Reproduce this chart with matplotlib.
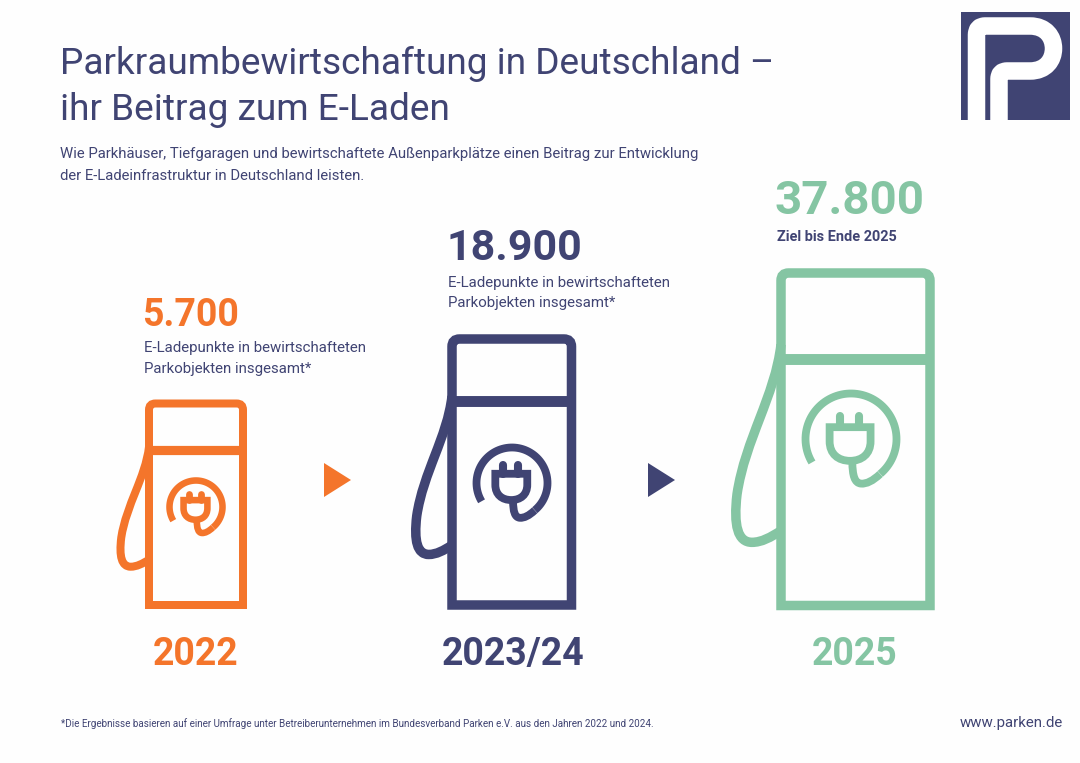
import numpy as np
import matplotlib
matplotlib.use('Agg')
import matplotlib.pyplot as plt
from matplotlib.path import Path
from matplotlib.patches import PathPatch, Rectangle, Polygon

years = ['2022', '2023/24', '2025']
points = [5700, 18900, 37800]
captions = ['E-Ladepunkte in bewirtschafteten\nParkobjekten insgesamt*',
            'E-Ladepunkte in bewirtschafteten\nParkobjekten insgesamt*',
            'Ziel bis Ende 2025']
title_lines = ['Parkraumbewirtschaftung in Deutschland –', 'ihr Beitrag zum E-Laden']
sub_lines = ['Wie Parkhäuser, Tiefgaragen und bewirtschaftete Außenparkplätze einen Beitrag zur Entwicklung',
             'der E-Ladeinfrastruktur in Deutschland leisten.']
footnote = '*Die Ergebnisse basieren auf einer Umfrage unter Betreiberunternehmen im Bundesverband Parken e.V. aus den Jahren 2022 und 2024.'
website = 'www.parken.de'

ORANGE = '#F4752B'
NAVY = '#404473'
GREEN = '#85C5A3'
BG = '#FEFEFE'
FONT = 'Roboto'

plt.rcParams['font.family'] = [FONT, 'DejaVu Sans']

fig = plt.figure(figsize=(10.8, 7.63), dpi=100, facecolor=BG)
ax = fig.add_axes([0, 0, 1, 1])
ax.set_xlim(0, 1080)
ax.set_ylim(763, 0)
ax.axis('off')


def px(size):
    # pixel groesse -> punkte
    return size * 0.72


def stroke(verts, codes, color, lw, cap='butt', join='round', zorder=3):
    patch = PathPatch(Path(verts, codes), fill=False, edgecolor=color, lw=px(lw),
                      capstyle=cap, joinstyle=join, zorder=zorder)
    ax.add_patch(patch)
    return patch


def pump(x0, x1, y0, y1, bar_y, cx, cy, r, color, lw):
    # x0,x1,y0,y1 = mittellinie vom gehaeuse
    w = x1 - x0
    h = y1 - y0
    M, L, Q, C = Path.MOVETO, Path.LINETO, Path.CURVE3, Path.CURVE4

    def pt(u, v):
        return (x0 + u * w, y0 + v * h)

    def pr(a, b):
        return (cx + a * r, cy + b * r)

    # gehaeuse, oben abgerundet
    rad = lw * 0.8
    stroke([(x0, y1), (x0, y0 + rad), (x0, y0), (x0 + rad, y0), (x1 - rad, y0), (x1, y0),
            (x1, y0 + rad), (x1, y1), (x0, y1)],
           [M, L, Q, Q, L, Q, Q, L, Path.CLOSEPOLY], color, lw, join='miter')
    ax.plot([x0, x1], [bar_y, bar_y], color=color, lw=px(lw * 1.15), solid_capstyle='butt', zorder=3)

    # kabel links
    cable = [pt(0, 0.215), pt(-0.04, 0.37), pt(-0.24, 0.50), pt(-0.295, 0.665),
             pt(-0.32, 0.76), pt(-0.29, 0.81), pt(-0.195, 0.81),
             pt(-0.13, 0.81), pt(-0.07, 0.795), pt(0, 0.775)]
    stroke(cable, [M, C, C, C, C, C, C, C, C, C], color, lw)

    # ring um den stecker, im uhrzeigersinn
    t = np.radians(np.linspace(211, -50, 80))
    ax.plot(cx + r * np.cos(t), cy - r * np.sin(t), color=color, lw=px(lw * 0.82),
            solid_capstyle='butt', zorder=3)

    # kabelende zum stecker
    stroke([pr(0.64, 0.77), pr(0.48, 0.92), pr(0.34, 0.99), pr(0.22, 0.98),
            pr(0.08, 0.97), pr(0.03, 0.8), pr(0.03, 0.5)],
           [M, C, C, C, C, C, C], color, lw * 0.82)

    # stecker
    stroke([pr(-0.47, -0.26), pr(0.43, -0.26), pr(0.43, 0.05), pr(0.43, 0.33), pr(0.24, 0.48), pr(-0.02, 0.48),
            pr(-0.28, 0.48), pr(-0.47, 0.33), pr(-0.47, 0.05), pr(-0.47, -0.26)],
           [M, L, L, C, C, C, C, C, C, Path.CLOSEPOLY], color, lw * 0.82, join='miter')
    for a in (-0.25, 0.18):
        ax.plot([cx + a * r, cx + a * r], [cy - 0.5 * r, cy - 0.26 * r], color=color,
                lw=px(lw * 0.85), solid_capstyle='round', zorder=3)


def logo():
    sq = Rectangle((961, 12), 109, 108, facecolor=NAVY, edgecolor='none', zorder=2)
    ax.add_patch(sq)
    M, L, Q, C = Path.MOVETO, Path.LINETO, Path.CURVE3, Path.CURVE4
    verts = [(999, 125), (999, 79), (999, 71), (1007, 71), (1030, 71),
             (1046, 71), (1053.5, 60), (1053.5, 48.5), (1053.5, 37), (1046, 26), (1030, 26),
             (985, 26), (976.5, 26), (976.5, 35), (976.5, 125)]
    codes = [M, L, Q, Q, L, C, C, C, C, C, C, L, Q, Q, L]
    p = stroke(verts, codes, 'white', 17.5, join='round', zorder=3)
    p.set_clip_path(sq)


# kopf
for text, y in zip(title_lines, [74, 120]):
    ax.text(60, y, text, color=NAVY, fontsize=px(37), va='baseline', ha='left')
for text, y in zip(sub_lines, [158, 180]):
    ax.text(60, y, text, color=NAVY, fontsize=px(14.85), va='baseline', ha='left')
logo()

# saeulen
pump(149, 243, 403.5, 605, 450, 196, 507, 26.5, ORANGE, 8)
pump(452, 571.5, 339, 605, 401, 512, 483, 35.5, NAVY, 9.5)
pump(781, 930, 273, 605.5, 359, 851, 439, 45.5, GREEN, 9.5)

# zahlen
colors = [ORANGE, NAVY, GREEN]
num_pos = [(142.5, 326, 37.5), (446, 260, 43), (775, 214, 47.5)]
cap_pos = [(144, [352, 373]), (448, [287, 307]), (777, [241])]
year_x = [196, 513, 855]
for i in range(len(years)):
    label = f'{points[i]:,}'.replace(',', '.')
    x, y, s = num_pos[i]
    ax.text(x, y, label, color=colors[i], fontsize=px(s), fontweight='bold', va='baseline', ha='left')
    cx, cys = cap_pos[i]
    for line, cy in zip(captions[i].split('\n'), cys):
        if i == 2:
            ax.text(cx, cy, line, color=NAVY, fontsize=px(14.5), fontweight='bold', va='baseline', ha='left')
        else:
            ax.text(cx, cy, line, color=NAVY, fontsize=px(15.05), va='baseline', ha='left')
    ax.text(year_x[i], 665, years[i], color=colors[i], fontsize=px(37.5), fontweight='bold',
            va='baseline', ha='center')

# pfeile
ax.add_patch(Polygon([(324, 463), (351, 480), (324, 497)], closed=True, facecolor=ORANGE, edgecolor='none'))
ax.add_patch(Polygon([(648, 463), (675, 480), (648, 497)], closed=True, facecolor=NAVY, edgecolor='none'))

# fuss
ax.text(61, 727, footnote, color=NAVY, fontsize=px(9.9), va='baseline', ha='left')
ax.text(1063, 727, website, color=NAVY, fontsize=px(15), va='baseline', ha='right')

fig.savefig('out.png', dpi=100, facecolor=BG)
